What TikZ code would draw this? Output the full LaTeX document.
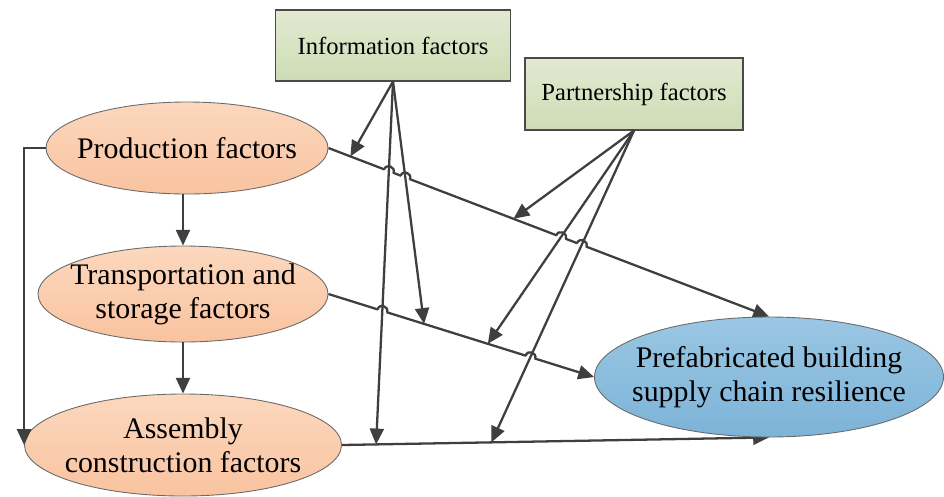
\documentclass[tikz,border=0pt]{standalone}
\usepackage{fontspec}
\setmainfont{Liberation Serif}
\usetikzlibrary{shapes.geometric, arrows.meta, positioning, calc, intersections, backgrounds}
\definecolor{peachtop}{HTML}{FCD8BE}
\definecolor{peachbottom}{HTML}{F9C3A0}
\definecolor{bluetop}{HTML}{9AC7E3}
\definecolor{bluebottom}{HTML}{7DB3D8}
\definecolor{greentop}{HTML}{E2EAD1}
\definecolor{greenbottom}{HTML}{CEDCB5}
\definecolor{edgegray}{HTML}{6A6A6A}
\definecolor{boxgray}{HTML}{4A4A4A}
\definecolor{arrowgray}{HTML}{3F3F3F}

\begin{document}
\begin{tikzpicture}[
  factor/.style={ellipse, draw=edgegray, line width=0.5pt, top color=peachtop, bottom color=peachbottom,
    inner sep=-0.35cm, align=center, font=\fontsize{17}{19.5}\selectfont},
  outcome/.style={factor, top color=bluetop, bottom color=bluebottom},
  moderator/.style={rectangle, draw=boxgray, line width=0.6pt, top color=greentop, bottom color=greenbottom,
    align=center, font=\fontsize{14}{16}\selectfont},
  wire/.style={draw=arrowgray, line width=1.3pt},
  link/.style={wire, -{Triangle[length=9pt, width=8pt]}}
]
  \useasboundingbox (0,0) rectangle (18.88,-9.92);

  % moderating factors
  \node[moderator, minimum width=4.7cm, minimum height=1.42cm] (info) at (7.86,-0.91) {Information factors};
  \node[moderator, minimum width=4.36cm, minimum height=1.44cm] (partner) at (12.68,-1.88) {Partnership factors};

  % chain factors and outcome
  \node[factor, minimum width=5.64cm, minimum height=1.84cm] (prod) at (3.74,-2.96) {Production factors};
  \node[factor, minimum width=5.8cm, minimum height=1.92cm] (trans) at (3.66,-5.88) {Transportation and\\storage factors};
  \node[factor, minimum width=6.34cm, minimum height=2.04cm] (asm) at (3.66,-8.9) {Assembly\\construction factors};
  \node[outcome, minimum width=6.98cm, minimum height=2.4cm] (res) at (15.38,-7.54) {Prefabricated building\\supply chain resilience};

  % links between the factors
  \draw[link] (trans.north |- prod.south) -- (trans.north);
  \draw[link] (trans.south) -- (asm.north);
  \draw[link] (prod.west) -| (asm.west);

  % links to resilience, under the moderating arrows
  \begin{pgfonlayer}{background}
    \draw[link, name path global=pr] (prod.east) -- (res.north) coordinate[pos=0.05] (pr1) coordinate[pos=0.42] (pr2);
    \draw[link, name path global=tr] (trans.east) -- (res.west) coordinate[pos=0.36] (tr1) coordinate[pos=0.6] (tr2);
    \draw[link] (asm.east) -- (res.south) coordinate[pos=0.08] (ar1) coordinate[pos=0.35] (ar2);
  \end{pgfonlayer}

  % moderating arrows
  \draw[link] (info.south) -- (pr1);
  \draw[link, name path=i2] (info.south) -- (tr1);
  \draw[link, name path=i3] (info.south) -- (ar1);
  \draw[link] (partner.south) -- (pr2);
  \draw[link, name path=q2] (partner.south) -- (tr2);
  \draw[link, name path=q3] (partner.south) -- (ar2);

  % line hops
  \begin{pgfonlayer}{background}
    \foreach \l/\m/\s/\e in {pr/i2/prod.east/res.north, pr/i3/prod.east/res.north,
        pr/q2/prod.east/res.north, pr/q3/prod.east/res.north,
        tr/i3/trans.east/res.west, tr/q3/trans.east/res.west}{
      \path[name intersections={of={\l} and {\m}, by=hop}];
      \fill[white] (hop) circle (0.095);
      \draw[wire] ($(hop)!0.1cm!(\s)$) to[bend left=90, looseness=1.65] ($(hop)!0.1cm!(\e)$);
    }
  \end{pgfonlayer}
\end{tikzpicture}
\end{document}
